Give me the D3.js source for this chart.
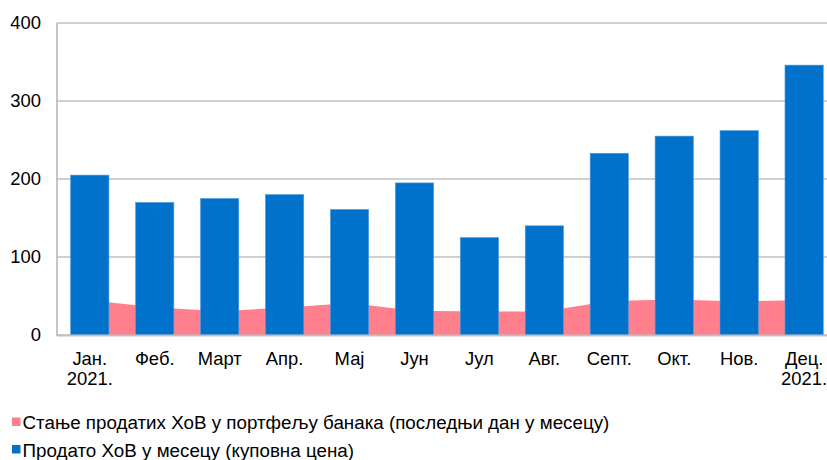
<!DOCTYPE html>
<html>
<head>
<meta charset="utf-8">
<script src="https://cdn.jsdelivr.net/npm/d3@7"></script>
<style>
  html, body { margin: 0; padding: 0; background: #fff; }
  svg { display: block; font-family: "Liberation Sans", Arial, sans-serif; }
</style>
</head>
<body>
<div id="chart"></div>
<script>
(function () {
  "use strict";

  const WIDTH = 827;
  const HEIGHT = 460;
  const BAR_COLOR = "#0072cc";
  const AREA_COLOR = "#ff7f8c";
  const GRID_COLOR = "#c0c0c0";

  /* ---- data ---- */
  const months = ["Јан.|2021.", "Феб.", "Март", "Апр.", "Мај", "Јун", "Јул", "Авг.", "Септ.", "Окт.", "Нов.", "Дец.|2021."];
  const soldInMonth = [205, 170, 175, 180, 161, 195, 125, 140, 233, 255, 262, 346];
  const portfolioStock = [44.5, 35.5, 30.5, 35, 41, 31, 30, 30, 43.5, 45.5, 43, 45];
  const yTicks = [0, 100, 200, 300, 400];
  const legendLabels = [
    "Стање продатих ХоВ у портфељу банака (последњи дан у месецу)",
    "Продато ХоВ у месецу (куповна цена)"
  ];

  const svg = d3.select("#chart").append("svg")
    .attr("width", WIDTH)
    .attr("height", HEIGHT);

  /* plot runs a little past the right edge, as in the source */
  const x = d3.scaleBand()
    .domain(months)
    .range([57.3, 836.6])
    .padding(0);

  const y = d3.scaleLinear()
    .domain([0, 400])
    .range([335, 23]);

  const barW = x.bandwidth() * 0.59;
  const cx = function (d) { return x(d) + x.bandwidth() / 2; };

  /* grid */
  svg.append("g").selectAll("line")
    .data(yTicks)
    .enter().append("line")
    .attr("x1", 57).attr("x2", WIDTH)
    .attr("y1", function (d) { return y(d); })
    .attr("y2", function (d) { return y(d); })
    .attr("stroke", GRID_COLOR)
    .attr("stroke-width", 1.6);

  /* area behind the bars */
  const area = d3.area()
    .x(function (d, i) { return cx(months[i]); })
    .y0(y(0))
    .y1(function (d) { return y(d); });

  svg.append("path")
    .datum(portfolioStock)
    .attr("d", area)
    .attr("fill", AREA_COLOR);

  /* bars */
  svg.append("g").selectAll("rect")
    .data(soldInMonth)
    .enter().append("rect")
    .attr("x", function (d, i) { return cx(months[i]) - barW / 2; })
    .attr("y", function (d) { return y(d); })
    .attr("width", barW)
    .attr("height", function (d) { return y(0) - y(d); })
    .attr("fill", BAR_COLOR)
    .attr("stroke", "#4f9fe3")
    .attr("stroke-width", 0.6);

  /* axis lines */
  svg.append("line")
    .attr("x1", 57).attr("x2", 57).attr("y1", y(400)).attr("y2", y(0) + 1)
    .attr("stroke", GRID_COLOR).attr("stroke-width", 1.8);
  svg.append("line")
    .attr("x1", 57).attr("x2", WIDTH).attr("y1", y(0) + 0.5).attr("y2", y(0) + 0.5)
    .attr("stroke", GRID_COLOR).attr("stroke-width", 2);

  /* y tick labels */
  svg.append("g").selectAll("text")
    .data(yTicks)
    .enter().append("text")
    .attr("x", 41)
    .attr("y", function (d) { return y(d); })
    .attr("dy", "0.35em")
    .attr("text-anchor", "end")
    .attr("font-size", 18.4)
    .attr("fill", "#000")
    .text(function (d) { return d; });

  /* x tick labels */
  const xl = svg.append("g").selectAll("text")
    .data(months)
    .enter().append("text")
    .attr("x", function (d) { return cx(d); })
    .attr("y", 365)
    .attr("text-anchor", "middle")
    .attr("font-size", 18.4)
    .attr("fill", "#000");
  xl.selectAll("tspan")
    .data(function (d) { return d.split("|"); })
    .enter().append("tspan")
    .attr("x", function () { return cx(d3.select(this.parentNode).datum()); })
    .attr("dy", function (d, i) { return i === 0 ? 0 : 19.5; })
    .text(function (d) { return d; });

  /* legend */
  const legendColors = [AREA_COLOR, BAR_COLOR];
  const lg = svg.append("g").selectAll("g")
    .data(legendLabels)
    .enter().append("g")
    .attr("transform", function (d, i) { return "translate(12," + (417.5 + i * 27.5) + ")"; });
  lg.append("rect")
    .attr("width", 8.5).attr("height", 8.5)
    .attr("fill", function (d, i) { return legendColors[i]; });
  lg.append("text")
    .attr("x", 10.5)
    .attr("y", 11.5)
    .attr("font-size", 18.8)
    .attr("fill", "#000")
    .text(function (d) { return d; });
})();
</script>
</body>
</html>
